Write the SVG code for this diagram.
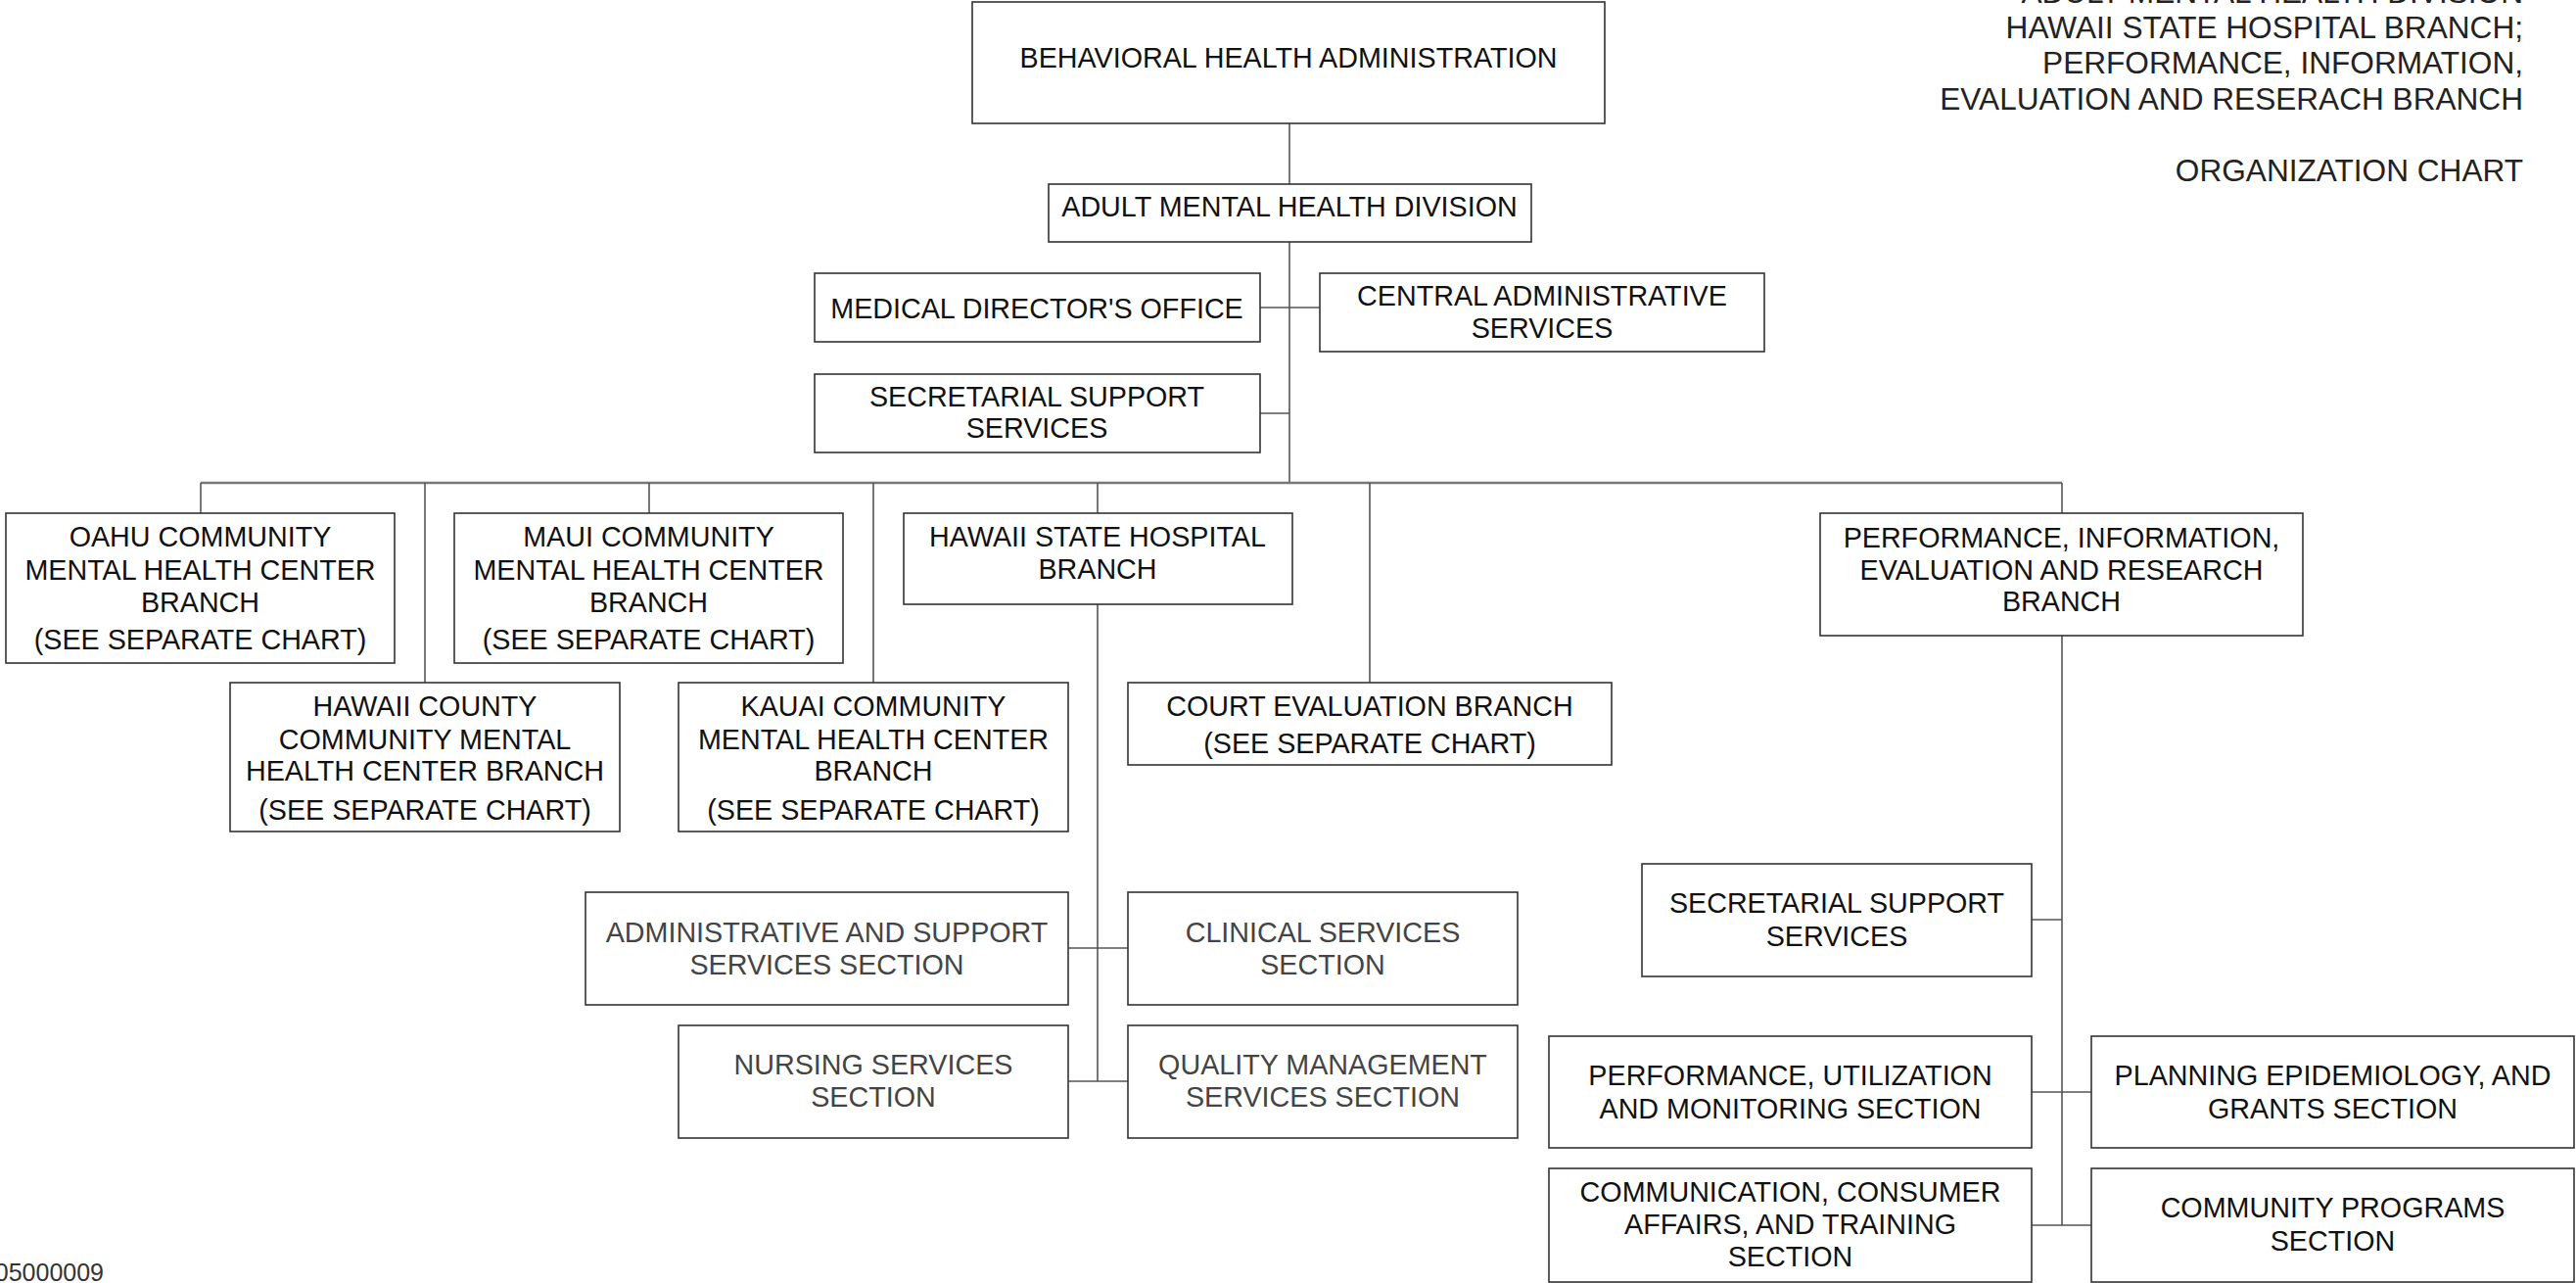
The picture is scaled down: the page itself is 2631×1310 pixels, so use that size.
<svg xmlns="http://www.w3.org/2000/svg" width="2631" height="1310" viewBox="0 0 2631 1310">
<style>
.box{fill:#fff;stroke:#333;stroke-width:1.6}
.t{font-family:"Liberation Sans",Arial,sans-serif;font-size:28.7px;fill:#111;text-anchor:middle}
.g{fill:#444}
.ttl{font-family:"Liberation Sans",Arial,sans-serif;font-size:31.6px;fill:#222;text-anchor:end}
.c{stroke:#555;stroke-width:1.6;fill:none}
.bus{stroke:#777;stroke-width:2.6;fill:none}
</style>
<rect width="2631" height="1310" fill="#fff"/>
<g id="title">
<text class="ttl" x="2577" y="3">ADULT MENTAL HEALTH DIVISION</text>
<text class="ttl" x="2577" y="39">HAWAII STATE HOSPITAL BRANCH;</text>
<text class="ttl" x="2577" y="75">PERFORMANCE, INFORMATION,</text>
<text class="ttl" x="2577" y="112">EVALUATION AND RESERACH BRANCH</text>
<text class="ttl" x="2577" y="185">ORGANIZATION CHART</text>
</g>
<text x="106" y="1308" style="font-family:'Liberation Sans',Arial,sans-serif;font-size:25px;fill:#333;text-anchor:end">05000009</text>
<g id="connectors">
<path class="c" d="M1317 126V188M1317 247V493M1287 314H1348M1287 422H1317"/>
<path class="bus" d="M205 493H2106"/>
<path class="c" d="M205 493V524M434 493V697M663 493V524M892 493V697M1121 493V524M1399 493V697M2106 493V524"/>
<path class="c" d="M1121 617V1104M1091 968H1152M1091 1104H1152"/>
<path class="c" d="M2106 649V1251M2075 939H2106M2075 1115H2136M2075 1251H2136"/>
</g>
<g id="bha"><rect class="box" x="993" y="2" width="646" height="124"/><text class="t" x="1316" y="69">BEHAVIORAL HEALTH ADMINISTRATION</text></g>
<g id="amhd"><rect class="box" x="1071" y="188" width="493" height="59"/><text class="t" x="1317" y="221">ADULT MENTAL HEALTH DIVISION</text></g>
<g id="med"><rect class="box" x="832" y="279" width="455" height="70"/><text class="t" x="1059" y="325">MEDICAL DIRECTOR'S OFFICE</text></g>
<g id="cas"><rect class="box" x="1348" y="279" width="454" height="80"/><text class="t" x="1575" y="312">CENTRAL ADMINISTRATIVE</text><text class="t" x="1575" y="345">SERVICES</text></g>
<g id="ss1"><rect class="box" x="832" y="382" width="455" height="80"/><text class="t" x="1059" y="415">SECRETARIAL SUPPORT</text><text class="t" x="1059" y="447">SERVICES</text></g>
<g id="oahu"><rect class="box" x="6" y="524" width="397" height="153"/><text class="t" x="204.5" y="558">OAHU COMMUNITY</text><text class="t" x="204.5" y="592">MENTAL HEALTH CENTER</text><text class="t" x="204.5" y="625">BRANCH</text><text class="t" x="204.5" y="663">(SEE SEPARATE CHART)</text></g>
<g id="maui"><rect class="box" x="464" y="524" width="397" height="153"/><text class="t" x="662.5" y="558">MAUI COMMUNITY</text><text class="t" x="662.5" y="592">MENTAL HEALTH CENTER</text><text class="t" x="662.5" y="625">BRANCH</text><text class="t" x="662.5" y="663">(SEE SEPARATE CHART)</text></g>
<g id="hsh"><rect class="box" x="923" y="524" width="397" height="93"/><text class="t" x="1121" y="558">HAWAII STATE HOSPITAL</text><text class="t" x="1121" y="591">BRANCH</text></g>
<g id="pier"><rect class="box" x="1859" y="524" width="493" height="125"/><text class="t" x="2105.5" y="559">PERFORMANCE, INFORMATION,</text><text class="t" x="2105.5" y="592">EVALUATION AND RESEARCH</text><text class="t" x="2105.5" y="624">BRANCH</text></g>
<g id="hcounty"><rect class="box" x="235" y="697" width="398" height="152"/><text class="t" x="434" y="731">HAWAII COUNTY</text><text class="t" x="434" y="765">COMMUNITY MENTAL</text><text class="t" x="434" y="797">HEALTH CENTER BRANCH</text><text class="t" x="434" y="837">(SEE SEPARATE CHART)</text></g>
<g id="kauai"><rect class="box" x="693" y="697" width="398" height="152"/><text class="t" x="892" y="731">KAUAI COMMUNITY</text><text class="t" x="892" y="765">MENTAL HEALTH CENTER</text><text class="t" x="892" y="797">BRANCH</text><text class="t" x="892" y="837">(SEE SEPARATE CHART)</text></g>
<g id="court"><rect class="box" x="1152" y="697" width="494" height="84"/><text class="t" x="1399" y="731">COURT EVALUATION BRANCH</text><text class="t" x="1399" y="769">(SEE SEPARATE CHART)</text></g>
<g id="admin"><rect class="box" x="598" y="911" width="493" height="115"/><text class="t g" x="844.5" y="962">ADMINISTRATIVE AND SUPPORT</text><text class="t g" x="844.5" y="995">SERVICES SECTION</text></g>
<g id="clinical"><rect class="box" x="1152" y="911" width="398" height="115"/><text class="t g" x="1351" y="962">CLINICAL SERVICES</text><text class="t g" x="1351" y="995">SECTION</text></g>
<g id="nursing"><rect class="box" x="693" y="1047" width="398" height="115"/><text class="t g" x="892" y="1097">NURSING SERVICES</text><text class="t g" x="892" y="1130">SECTION</text></g>
<g id="quality"><rect class="box" x="1152" y="1047" width="398" height="115"/><text class="t g" x="1351" y="1097">QUALITY MANAGEMENT</text><text class="t g" x="1351" y="1130">SERVICES SECTION</text></g>
<g id="ss2"><rect class="box" x="1677" y="882" width="398" height="115"/><text class="t" x="1876" y="932">SECRETARIAL SUPPORT</text><text class="t" x="1876" y="966">SERVICES</text></g>
<g id="perf"><rect class="box" x="1582" y="1058" width="493" height="114"/><text class="t" x="1828.5" y="1108">PERFORMANCE, UTILIZATION</text><text class="t" x="1828.5" y="1142">AND MONITORING SECTION</text></g>
<g id="plan"><rect class="box" x="2136" y="1058" width="493" height="114"/><text class="t" x="2382.5" y="1108">PLANNING EPIDEMIOLOGY, AND</text><text class="t" x="2382.5" y="1142">GRANTS SECTION</text></g>
<g id="comm"><rect class="box" x="1582" y="1193" width="493" height="116"/><text class="t" x="1828.5" y="1227">COMMUNICATION, CONSUMER</text><text class="t" x="1828.5" y="1260">AFFAIRS, AND TRAINING</text><text class="t" x="1828.5" y="1293">SECTION</text></g>
<g id="cprog"><rect class="box" x="2136" y="1193" width="493" height="116"/><text class="t" x="2382.5" y="1243">COMMUNITY PROGRAMS</text><text class="t" x="2382.5" y="1277">SECTION</text></g>
</svg>
